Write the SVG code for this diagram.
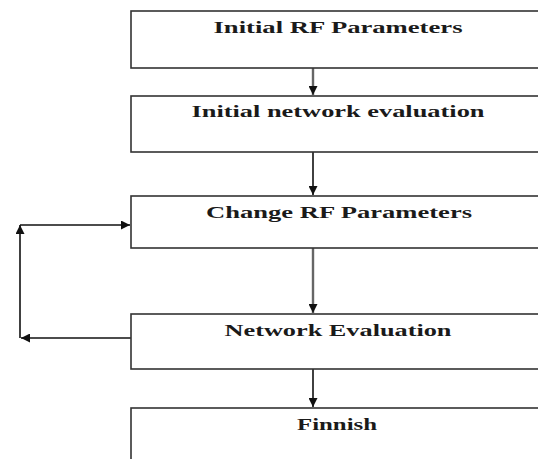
<svg xmlns="http://www.w3.org/2000/svg" width="538" height="459" viewBox="0 0 538 459">
<style>
.box{fill:#fff;stroke:#333;stroke-width:1.6}
.lbl{font-family:"Liberation Serif","Times New Roman",serif;font-weight:bold;font-size:17px;fill:#1a1a1a;text-anchor:middle}
.c{fill:none;stroke:#111;stroke-width:1.6}
.g{fill:none;stroke:#666;stroke-width:2.4}
</style>
<defs>
<marker id="ah" viewBox="0 0 10 10" refX="10" refY="5" markerWidth="9" markerHeight="9" markerUnits="userSpaceOnUse" orient="auto">
<path d="M0,0 L10,5 L0,10 z" fill="#111"/>
</marker>
</defs>
<rect width="538" height="459" fill="#fff"/>
<g id="connectors">
<path class="g" d="M313,68 V95" marker-end="url(#ah)"/>
<path class="c" d="M313,152 V195" marker-end="url(#ah)"/>
<path class="g" d="M313,248 V313" marker-end="url(#ah)"/>
<path class="c" d="M313,369 V407" marker-end="url(#ah)"/>
<path class="c" d="M131,338 H21" marker-end="url(#ah)"/>
<path class="c" d="M20,338 V225" marker-end="url(#ah)"/>
<path class="c" d="M20,225 H130" marker-end="url(#ah)"/>
</g>
<g id="n1"><rect class="box" x="131" y="11" width="420" height="57"/><text class="lbl" x="338" y="33" textLength="249" lengthAdjust="spacingAndGlyphs">Initial RF Parameters</text></g>
<g id="n2"><rect class="box" x="131" y="96" width="420" height="56"/><text class="lbl" x="338" y="117" textLength="293" lengthAdjust="spacingAndGlyphs">Initial network evaluation</text></g>
<g id="n3"><rect class="box" x="131" y="196" width="420" height="52"/><text class="lbl" x="339" y="218" textLength="266" lengthAdjust="spacingAndGlyphs">Change RF Parameters</text></g>
<g id="n4"><rect class="box" x="131" y="314" width="420" height="55"/><text class="lbl" x="338" y="336" textLength="227" lengthAdjust="spacingAndGlyphs">Network Evaluation</text></g>
<g id="n5"><rect class="box" x="131" y="408" width="420" height="70"/><text class="lbl" x="337" y="430" textLength="80" lengthAdjust="spacingAndGlyphs">Finnish</text></g>
</svg>
